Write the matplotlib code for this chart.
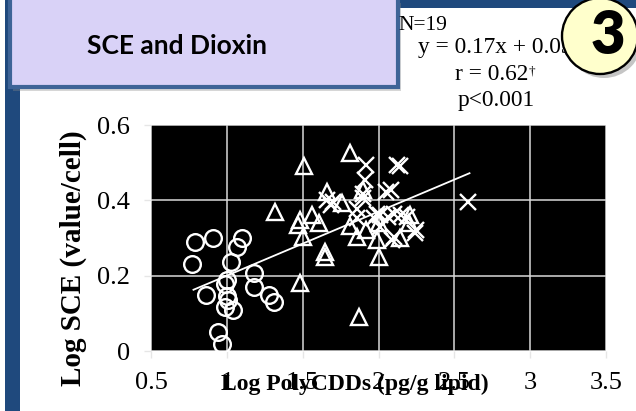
import matplotlib
matplotlib.use('Agg')
import matplotlib.pyplot as plt
from matplotlib.patches import Rectangle, Circle

# ---- data ----
circle_x = [0.79, 0.91, 0.77, 1.10, 1.07, 1.03, 1.18, 1.00, 0.99, 0.86, 1.00, 1.18, 1.28, 1.31, 0.99, 1.04, 0.94, 0.97, 1.01]
circle_y = [0.290, 0.300, 0.230, 0.300, 0.275, 0.237, 0.206, 0.188, 0.178, 0.149, 0.146, 0.171, 0.149, 0.131, 0.116, 0.110, 0.051, 0.019, 0.135]

tri_x = [1.81, 1.51, 1.32, 1.48, 1.56, 1.61, 1.47, 1.50, 1.66, 1.65, 1.65, 1.48, 1.87, 1.76, 1.81, 1.86, 1.90, 1.92, 2.00, 1.99, 2.00, 2.14, 2.21, 2.20]
tri_y = [0.526, 0.491, 0.370, 0.347, 0.361, 0.339, 0.334, 0.303, 0.423, 0.263, 0.250, 0.180, 0.091, 0.392, 0.332, 0.303, 0.427, 0.321, 0.339, 0.294, 0.250, 0.299, 0.361, 0.339]

cross_x = [1.92, 2.12, 2.14, 1.91, 1.90, 2.08, 2.05, 1.70, 1.66, 1.69, 1.86, 1.90, 1.99, 2.01, 1.97, 2.10, 2.06, 2.19, 2.25, 2.24, 2.10, 2.09, 2.01, 2.59, 1.86, 2.15]
cross_y = [0.493, 0.493, 0.490, 0.454, 0.418, 0.427, 0.423, 0.396, 0.401, 0.387, 0.378, 0.405, 0.365, 0.360, 0.352, 0.365, 0.356, 0.356, 0.321, 0.313, 0.303, 0.294, 0.330, 0.396, 0.352, 0.361]

fit_x = [0.78, 2.60]
fit_slope = 0.17
fit_intercept = 0.03

x_ticks = [0.5, 1.0, 1.5, 2.0, 2.5, 3.0, 3.5]
x_tick_labels = ['0.5', '1', '1.5', '2', '2.5', '3', '3.5']
y_ticks = [0.0, 0.2, 0.4, 0.6]
y_tick_labels = ['0', '0.2', '0.4', '0.6']

title = 'SCE and Dioxin'
x_label = 'Log PolyCDDs (pg/g lipid)'
y_label = 'Log SCE (value/cell)'
stats_lines = ['N=19', 'y = 0.17x + 0.03', 'r = 0.62', 'p<0.001']
stats_mark = '\u2020'
badge = '3'

# ---- figure ----
W, H = 636, 411
fig = plt.figure(figsize=(W / 100, H / 100), dpi=100)
fig.patch.set_facecolor('white')

serif = ['Liberation Serif', 'DejaVu Serif']
dark_blue = '#1F497D'

bg = fig.add_axes([0, 0, 1, 1], zorder=0)
bg.set_xlim(0, W)
bg.set_ylim(H, 0)
bg.axis('off')
bg.add_patch(Rectangle((5, 0), 15, H, facecolor=dark_blue, edgecolor='none'))
bg.add_patch(Rectangle((5, 0), W - 5, 8, facecolor=dark_blue, edgecolor='none'))
bg.add_patch(Rectangle((13, 3), 388, 88, facecolor='#8a8a8a', edgecolor='none', alpha=0.35))
bg.add_patch(Rectangle((10, -4), 388, 91, facecolor='#D9D2F7', edgecolor='#3E6497', lw=3))
bg.text(177, 46, title, ha='center', va='center', fontsize=19,
        fontfamily='Lato', fontweight='bold', color='black')

# ---- main axes ----
ax = fig.add_axes([151 / W, 1 - 351 / H, 455 / W, 226 / H], zorder=1)
ax.set_facecolor('black')
ax.set_xlim(0.5, 3.5)
ax.set_ylim(0, 0.6)
ax.set_xticks(x_ticks)
ax.set_xticklabels(x_tick_labels)
ax.set_yticks(y_ticks)
ax.set_yticklabels(y_tick_labels)
ax.grid(True, color='#D9D9D9', lw=1.1)
ax.set_axisbelow(True)
for s in ax.spines.values():
    s.set_visible(False)
ax.tick_params(axis='both', length=5, width=1, color='#E6E6E6', labelsize=19)
ax.tick_params(axis='x', pad=10)
ax.tick_params(axis='y', pad=10)
for lab in ax.get_xticklabels() + ax.get_yticklabels():
    lab.set_fontfamily(serif)

ax.plot(fit_x, [fit_slope * v + fit_intercept for v in fit_x], color='white', lw=1.3, zorder=2)
ax.plot(circle_x, circle_y, linestyle='none', marker='o', markersize=12,
        markerfacecolor='none', markeredgecolor='white', markeredgewidth=1.7, zorder=3)
ax.plot(tri_x, tri_y, linestyle='none', marker='^', markersize=12,
        markerfacecolor='none', markeredgecolor='white', markeredgewidth=1.7, zorder=3)
ax.plot(cross_x, cross_y, linestyle='none', marker='x', markersize=11,
        markerfacecolor='none', markeredgecolor='white', markeredgewidth=1.7, zorder=3)

ax.set_xlabel(x_label, fontsize=17, fontweight='bold', fontfamily=serif)
ax.xaxis.set_label_coords(0.447, -0.1)
ax.set_ylabel(y_label, fontsize=21, fontweight='bold', fontfamily=serif)
ax.yaxis.set_label_coords(-0.14, 0.41)

# ---- overlay ----
ov = fig.add_axes([0, 0, 1, 1], zorder=2)
ov.set_xlim(0, W)
ov.set_ylim(H, 0)
ov.axis('off')
ov.patch.set_alpha(0)
stat_pos = [(398, 30), (418, 53), (455, 80), (458, 106)]
stat_size = [15.5, 16.8, 16.8, 16.8]
stat_texts = []
for (px, py), txt, fs in zip(stat_pos, stats_lines, stat_size):
    stat_texts.append(ov.text(px, py, txt, ha='left', va='baseline', fontsize=fs,
                              fontfamily=serif, color='black', zorder=1))
ov.annotate(stats_mark, xy=(1.0, 0.95), xycoords=stat_texts[2], ha='left', va='top',
            fontsize=9.5, fontfamily=serif, color='black', zorder=1)

ov.add_patch(Circle((604, 40), 38, facecolor='#7f7f7f', edgecolor='none', alpha=0.45, zorder=4))
ov.add_patch(Circle((600, 36), 38, facecolor='#FFFFCC', edgecolor='black', lw=1.7, zorder=5))
ov.text(608, 37, badge, ha='center', va='center', fontsize=43, fontweight='heavy',
        fontfamily=['Lato', 'DejaVu Sans'], color='black', zorder=6)

fig.savefig('out.png', dpi=100)
